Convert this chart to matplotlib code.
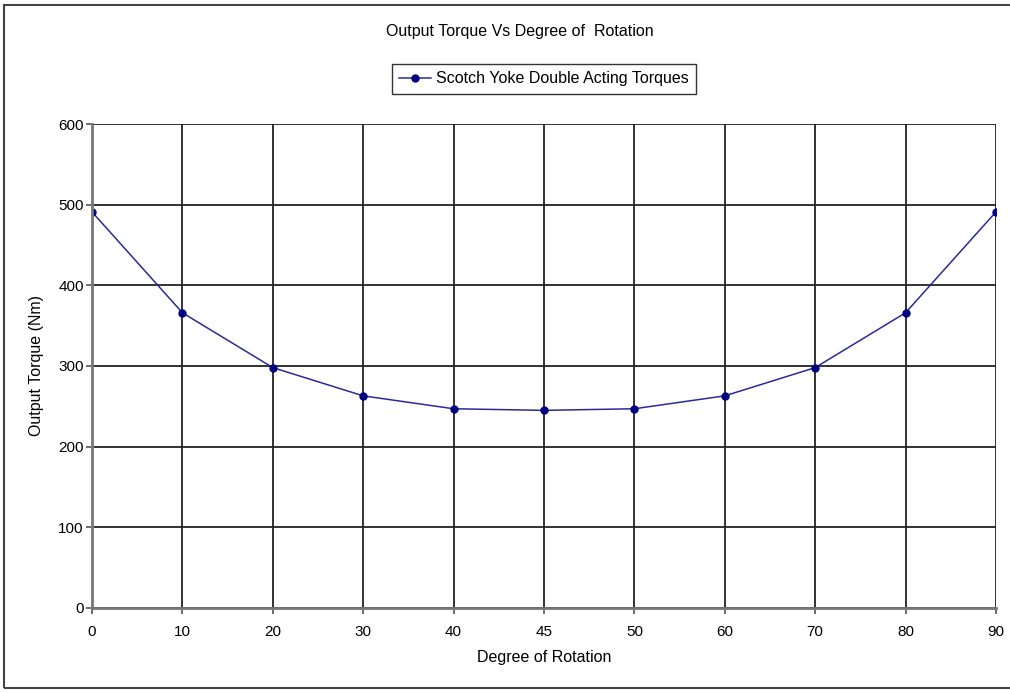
import matplotlib
matplotlib.use('Agg')
import matplotlib.pyplot as plt
from matplotlib.patches import Rectangle

# Datos
grados = ['0', '10', '20', '30', '40', '45', '50', '60', '70', '80', '90']
par_salida = [491, 366, 298, 263, 247, 245, 247, 263, 298, 366, 491]
y_ticks = [0, 100, 200, 300, 400, 500, 600]

plt.rcParams['font.family'] = ['Liberation Sans', 'DejaVu Sans']

fig = plt.figure(figsize=(10.1, 6.92), dpi=100)
ax = fig.add_axes([0.0911, 0.1214, 0.8950, 0.6994])

x = list(range(len(grados)))
ax.plot(x, par_salida, color='#2a2a9a', lw=1.1, marker='o', ms=5,
        mfc='#000080', mec='#000080', label='Scotch Yoke Double Acting Torques')

ax.set_xlim(0, len(grados) - 1)
ax.set_ylim(0, 600)
ax.set_xticks(x)
ax.set_xticklabels(grados)
ax.set_yticks(y_ticks)
ax.tick_params(axis='both', labelsize=11, color='#555555', length=4, width=1.2)
ax.tick_params(axis='x', pad=8)
ax.tick_params(axis='y', pad=2)

ax.grid(True, color='#222222', lw=1.3)
ax.set_axisbelow(True)
for lado in ['top', 'right']:
    ax.spines[lado].set_visible(False)
for lado in ['left', 'bottom']:
    ax.spines[lado].set_color('#777777')
    ax.spines[lado].set_linewidth(2)

ax.set_xlabel('Degree of Rotation', fontsize=11.5, labelpad=8)
ax.set_ylabel('Output Torque (Nm)', fontsize=11.5, labelpad=10)

fig.text(0.5144, 0.954, 'Output Torque Vs Degree of  Rotation', ha='center', va='center', fontsize=11.5)

leg = ax.legend(loc='center', bbox_to_anchor=(0.5, 1.093), fontsize=11.5, frameon=True,
                fancybox=False, handlelength=2.0, borderpad=0.45, handletextpad=0.3)
leg.get_frame().set_edgecolor('#000000')
leg.get_frame().set_linewidth(1.0)

# Marco exterior
fig.patches.append(Rectangle((4 / 1010, 4 / 692), 1.02, 683 / 692, transform=fig.transFigure,
                             fill=False, edgecolor='#444444', lw=1.5, clip_on=False))

fig.savefig('out.png', dpi=100)
